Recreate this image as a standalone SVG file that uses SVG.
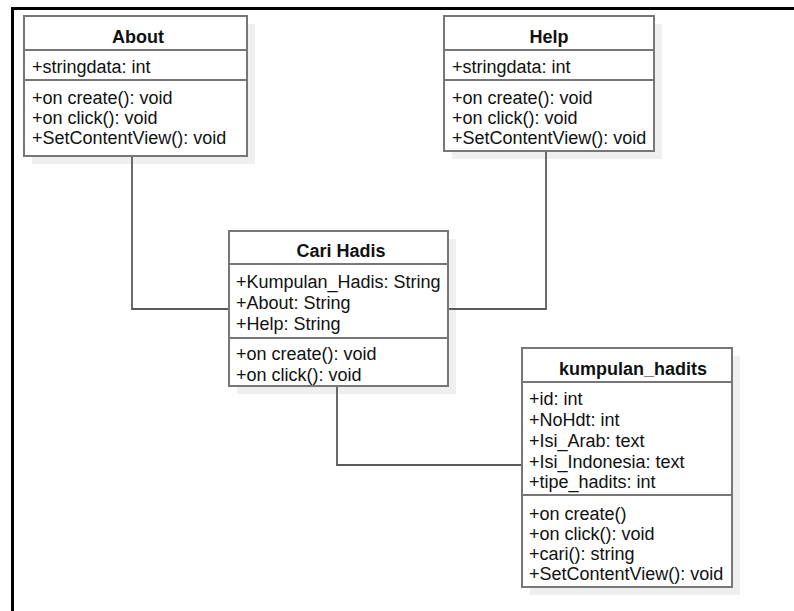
<svg xmlns="http://www.w3.org/2000/svg" width="794" height="611" viewBox="0 0 794 611">
  <style>
    .shadow { fill: #efefef; stroke: none; }
    .box { fill: #ffffff; stroke: #777777; stroke-width: 2; }
    .div { stroke: #777777; stroke-width: 2; fill: none; }
    .edge { stroke: #5a5a5a; stroke-width: 1.8; fill: none; }
    .frame { stroke: #000000; fill: none; }
    text { font-family: "Liberation Sans", Arial, sans-serif; font-size: 18px; fill: #111111; }
    .title { font-weight: bold; text-anchor: middle; }
  </style>

  <rect width="794" height="611" fill="#ffffff"/>

  <!-- page frame -->
  <g id="frame">
    <line class="frame" x1="11" y1="8.5" x2="794" y2="8.5" stroke-width="3"/>
    <line class="frame" x1="12.5" y1="7" x2="12.5" y2="611" stroke-width="3"/>
  </g>

  <g id="about">
    <rect class="shadow" x="32" y="24" width="223" height="140"/>
    <rect class="box" x="24" y="16" width="223" height="140"/>
    <line class="div" x1="24" y1="50" x2="247" y2="50"/>
    <line class="div" x1="24" y1="80" x2="247" y2="80"/>
    <text class="title" x="138" y="43">About</text>
    <text x="32" y="73">+stringdata: int</text>
    <text x="32" y="104">+on create(): void</text>
    <text x="32" y="124">+on click(): void</text>
    <text x="32" y="144">+SetContentView(): void</text>
  </g>

  <g id="help">
    <rect class="shadow" x="452" y="24" width="210" height="135"/>
    <rect class="box" x="444" y="16" width="210" height="135"/>
    <line class="div" x1="444" y1="50" x2="654" y2="50"/>
    <line class="div" x1="444" y1="80" x2="654" y2="80"/>
    <text class="title" x="549" y="43">Help</text>
    <text x="452" y="73">+stringdata: int</text>
    <text x="452" y="104">+on create(): void</text>
    <text x="452" y="124">+on click(): void</text>
    <text x="452" y="144">+SetContentView(): void</text>
  </g>

  <g id="cari-hadis">
    <rect class="shadow" x="237" y="239" width="219" height="155"/>
    <rect class="box" x="229" y="231" width="219" height="155"/>
    <line class="div" x1="229" y1="264" x2="448" y2="264"/>
    <line class="div" x1="229" y1="338" x2="448" y2="338"/>
    <text class="title" x="341" y="257">Cari Hadis</text>
    <text x="236" y="288">+Kumpulan_Hadis: String</text>
    <text x="236" y="309">+About: String</text>
    <text x="236" y="330">+Help: String</text>
    <text x="236" y="360">+on create(): void</text>
    <text x="236" y="381">+on click(): void</text>
  </g>

  <g id="kumpulan-hadits">
    <rect class="shadow" x="530" y="356" width="210" height="239"/>
    <rect class="box" x="522" y="348" width="210" height="239"/>
    <line class="div" x1="522" y1="382" x2="732" y2="382"/>
    <line class="div" x1="522" y1="495" x2="732" y2="495"/>
    <text class="title" x="633" y="375">kumpulan_hadits</text>
    <text x="529" y="405">+id: int</text>
    <text x="529" y="426">+NoHdt: int</text>
    <text x="529" y="447">+Isi_Arab: text</text>
    <text x="529" y="468">+Isi_Indonesia: text</text>
    <text x="529" y="488">+tipe_hadits: int</text>
    <text x="529" y="520">+on create()</text>
    <text x="529" y="540">+on click(): void</text>
    <text x="529" y="560">+cari(): string</text>
    <text x="529" y="580">+SetContentView(): void</text>
  </g>

  <!-- associations, drawn over the drop shadows -->
  <g id="connectors">
    <polyline class="edge" points="132,157 132,309 228,309"/>
    <polyline class="edge" points="546,152 546,309 449,309"/>
    <polyline class="edge" points="337,387 337,465 521,465"/>
  </g>
</svg>
